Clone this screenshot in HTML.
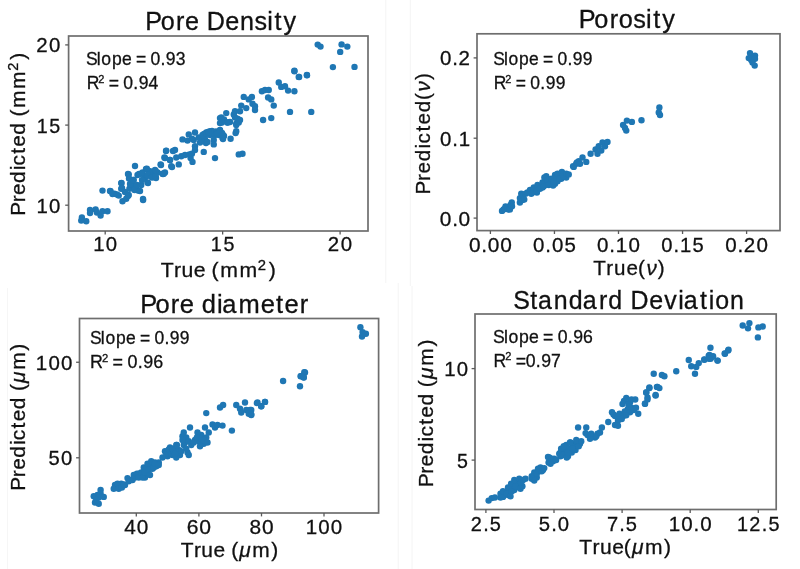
<!DOCTYPE html>
<html><head><meta charset="utf-8"><style>
html,body{margin:0;padding:0;background:#fff;}
svg{display:block;filter:blur(0.45px);}
text{font-family:"Liberation Sans",sans-serif;fill:#111;stroke:#111;stroke-width:0.3px;}
</style></head><body>
<svg width="800" height="569" viewBox="0 0 800 569">
<rect width="800" height="569" fill="#fff"/>
<g stroke-width="1" fill="none">
<line x1="385.8" y1="0" x2="385.8" y2="283" stroke="#f4f4f4"/>
<line x1="398.2" y1="283" x2="398.2" y2="569" stroke="#f4f4f4"/>
<line x1="410.3" y1="0" x2="410.3" y2="286" stroke="#f4f4f4"/>
<line x1="412" y1="286" x2="412" y2="569" stroke="#f4f4f4"/>
<line x1="7.5" y1="288" x2="7.5" y2="569" stroke="#f6f6f6"/>
</g>
<rect x="68.6" y="36" width="299.4" height="195" fill="none" stroke="#6e6e6e" stroke-width="1.7"/>
<line x1="105.2" y1="231" x2="105.2" y2="234.4" stroke="#5a5a5a" stroke-width="1.3"/>
<line x1="222.65" y1="231" x2="222.65" y2="234.4" stroke="#5a5a5a" stroke-width="1.3"/>
<line x1="340.1" y1="231" x2="340.1" y2="234.4" stroke="#5a5a5a" stroke-width="1.3"/>
<line x1="65.2" y1="44.9" x2="68.6" y2="44.9" stroke="#5a5a5a" stroke-width="1.3"/>
<line x1="65.2" y1="125.1" x2="68.6" y2="125.1" stroke="#5a5a5a" stroke-width="1.3"/>
<line x1="65.2" y1="205.2" x2="68.6" y2="205.2" stroke="#5a5a5a" stroke-width="1.3"/>
<rect x="477" y="33.8" width="303" height="196.8" fill="none" stroke="#6e6e6e" stroke-width="1.7"/>
<line x1="490.4" y1="230.6" x2="490.4" y2="234" stroke="#5a5a5a" stroke-width="1.3"/>
<line x1="554.45" y1="230.6" x2="554.45" y2="234" stroke="#5a5a5a" stroke-width="1.3"/>
<line x1="618.5" y1="230.6" x2="618.5" y2="234" stroke="#5a5a5a" stroke-width="1.3"/>
<line x1="682.55" y1="230.6" x2="682.55" y2="234" stroke="#5a5a5a" stroke-width="1.3"/>
<line x1="746.6" y1="230.6" x2="746.6" y2="234" stroke="#5a5a5a" stroke-width="1.3"/>
<line x1="473.6" y1="57.9" x2="477" y2="57.9" stroke="#5a5a5a" stroke-width="1.3"/>
<line x1="473.6" y1="138.2" x2="477" y2="138.2" stroke="#5a5a5a" stroke-width="1.3"/>
<line x1="473.6" y1="218.1" x2="477" y2="218.1" stroke="#5a5a5a" stroke-width="1.3"/>
<rect x="79.5" y="318.5" width="299.1" height="194.5" fill="none" stroke="#6e6e6e" stroke-width="1.7"/>
<line x1="136.3" y1="513" x2="136.3" y2="516.4" stroke="#5a5a5a" stroke-width="1.3"/>
<line x1="198.9" y1="513" x2="198.9" y2="516.4" stroke="#5a5a5a" stroke-width="1.3"/>
<line x1="261.5" y1="513" x2="261.5" y2="516.4" stroke="#5a5a5a" stroke-width="1.3"/>
<line x1="324" y1="513" x2="324" y2="516.4" stroke="#5a5a5a" stroke-width="1.3"/>
<line x1="76.1" y1="362.25" x2="79.5" y2="362.25" stroke="#5a5a5a" stroke-width="1.3"/>
<line x1="76.1" y1="457.8" x2="79.5" y2="457.8" stroke="#5a5a5a" stroke-width="1.3"/>
<rect x="475" y="314" width="301.2" height="195.5" fill="none" stroke="#6e6e6e" stroke-width="1.7"/>
<line x1="485.9" y1="509.5" x2="485.9" y2="512.9" stroke="#5a5a5a" stroke-width="1.3"/>
<line x1="554" y1="509.5" x2="554" y2="512.9" stroke="#5a5a5a" stroke-width="1.3"/>
<line x1="622.1" y1="509.5" x2="622.1" y2="512.9" stroke="#5a5a5a" stroke-width="1.3"/>
<line x1="690.2" y1="509.5" x2="690.2" y2="512.9" stroke="#5a5a5a" stroke-width="1.3"/>
<line x1="758.3" y1="509.5" x2="758.3" y2="512.9" stroke="#5a5a5a" stroke-width="1.3"/>
<line x1="471.6" y1="368.6" x2="475" y2="368.6" stroke="#5a5a5a" stroke-width="1.3"/>
<line x1="471.6" y1="460.1" x2="475" y2="460.1" stroke="#5a5a5a" stroke-width="1.3"/>
<text transform="translate(161.1,276.8) scale(1.0302,1)" font-size="20.6"><tspan x="-0.40 12.46 19.69 31.69 43.24 49.05 57.44 76.01" y="-0.00" font-size="20.60">True (mm</tspan><tspan x="93.90" y="-6.99" font-size="14.42">2</tspan><tspan x="104.58" y="-0.00" font-size="20.60">)</tspan></text>
<text transform="translate(593.3,275.3) scale(0.9994,1)" font-size="20.6"><tspan x="-0.18 13.09 20.66 33.11 44.80" y="-0.00" font-size="20.60">True(</tspan><tspan x="53.16" y="-0.00" font-size="20.60" font-style="italic">ν</tspan><tspan x="64.56" y="-0.00" font-size="20.60">)</tspan></text>
<text transform="translate(181.2,556.9) scale(1.0161,1)" font-size="20.6"><tspan x="-0.38 12.53 19.79 31.83 43.41 49.26" y="-0.00" font-size="20.60">True (</tspan><tspan x="57.20" y="-0.00" font-size="20.60" font-style="italic">μ</tspan><tspan x="69.89 88.59" y="-0.00" font-size="20.60">m)</tspan></text>
<text transform="translate(579.7,553.7) scale(1.0226,1)" font-size="20.6"><tspan x="-0.38 12.53 19.79 31.83 43.19" y="-0.00" font-size="20.60">True(</tspan><tspan x="51.13" y="-0.00" font-size="20.60" font-style="italic">μ</tspan><tspan x="63.82 82.52" y="-0.00" font-size="20.60">m)</tspan></text>
<text transform="translate(25,213) rotate(-90) scale(1.0119,1)" font-size="20.6"><tspan x="-2.63 10.59 17.88 29.76 42.14 47.01 58.56 65.50 77.39 89.36 95.30 103.85 122.65" y="-0.00" font-size="20.60">Predicted (mm</tspan><tspan x="140.70" y="-6.99" font-size="14.42">2</tspan><tspan x="151.51" y="-0.00" font-size="20.60">)</tspan></text>
<text transform="translate(429.6,192.1) rotate(-90) scale(1.0043,1)" font-size="20.6"><tspan x="-2.51 10.99 18.52 30.72 43.35 48.43 60.23 67.43 79.64 91.71" y="-0.00" font-size="20.60">Predicted(</tspan><tspan x="100.09" y="-0.00" font-size="20.60" font-style="italic">ν</tspan><tspan x="111.51" y="-0.00" font-size="20.60">)</tspan></text>
<text transform="translate(25.2,488) rotate(-90) scale(1.0134,1)" font-size="20.6"><tspan x="-2.61 10.65 17.96 29.90 42.31 47.21 58.80 65.77 77.71 89.70 95.68" y="-0.00" font-size="20.60">Predicted (</tspan><tspan x="103.73" y="-0.00" font-size="20.60" font-style="italic">μ</tspan><tspan x="116.62 135.48" y="-0.00" font-size="20.60">m)</tspan></text>
<text transform="translate(432.9,484.7) rotate(-90) scale(1.0199,1)" font-size="20.6"><tspan x="-2.61 10.65 17.96 29.90 42.31 47.21 58.80 65.77 77.71 89.70 95.68" y="-0.00" font-size="20.60">Predicted (</tspan><tspan x="103.73" y="-0.00" font-size="20.60" font-style="italic">μ</tspan><tspan x="116.62 135.48" y="-0.00" font-size="20.60">m)</tspan></text>
<text transform="translate(87.9,65.3) scale(0.9487,1)" font-size="18.5"><tspan x="-2.01 9.36 14.16 25.29 35.85 46.14 50.61 61.21 66.01 76.51 82.20 92.65" y="-0.00" font-size="18.50">Slope = 0.93</tspan></text>
<text transform="translate(89,89.3) scale(0.9489,1)" font-size="18.5"><tspan x="-2.27" y="-0.00" font-size="18.50">R</tspan><tspan x="9.89" y="-6.53" font-size="11.65">2</tspan><tspan x="16.43 20.88 31.47 36.24 46.72 52.40 62.71" y="-0.00" font-size="18.50"> = 0.94</tspan></text>
<text transform="translate(495.1,65.3) scale(0.9447,1)" font-size="18.5"><tspan x="-2.00 9.37 14.18 25.33 35.89 46.19 50.67 61.28 66.09 76.59 82.30 92.89" y="-0.00" font-size="18.50">Slope = 0.99</tspan></text>
<text transform="translate(495.75,89.2) scale(0.9435,1)" font-size="18.5"><tspan x="-2.22" y="-0.00" font-size="18.50">R</tspan><tspan x="10.03" y="-6.53" font-size="11.65">2</tspan><tspan x="16.61 21.16 31.81 36.69 47.25 53.02 63.69" y="-0.00" font-size="18.50"> = 0.99</tspan></text>
<text transform="translate(92,344.3) scale(0.9457,1)" font-size="18.5"><tspan x="-2.00 9.37 14.18 25.33 35.89 46.19 50.67 61.28 66.09 76.59 82.30 92.89" y="-0.00" font-size="18.50">Slope = 0.99</tspan></text>
<text transform="translate(92.3,368.3) scale(0.9675,1)" font-size="18.5"><tspan x="-2.26" y="-0.00" font-size="18.50">R</tspan><tspan x="9.93" y="-6.53" font-size="11.65">2</tspan><tspan x="16.48 20.95 31.55 36.36 46.86 52.56 62.89" y="-0.00" font-size="18.50"> = 0.96</tspan></text>
<text transform="translate(495,343.25) scale(0.9554,1)" font-size="18.5"><tspan x="-2.02 9.31 14.07 25.16 35.66 45.94 50.36 60.94 65.70 76.15 81.81 92.10" y="-0.00" font-size="18.50">Slope = 0.96</tspan></text>
<text transform="translate(495.75,366.5) scale(0.9530,1)" font-size="18.5"><tspan x="-2.28" y="-0.00" font-size="18.50">R</tspan><tspan x="9.88" y="-6.53" font-size="11.65">2</tspan><tspan x="16.42 20.86 31.54 42.01 47.68 58.08" y="-0.00" font-size="18.50"> =0.97</tspan></text>
<text transform="translate(148.5,29.9) scale(0.9818,1)" font-size="25.6"><tspan x="-3.23 12.42 28.03 37.15 51.63 59.32 78.19 93.25 108.04 121.05 128.32 137.41" y="-0.00" font-size="25.60">Pore Density</tspan></text>
<text transform="translate(582,28.2) scale(0.9879,1)" font-size="25.6"><tspan x="-3.21 12.49 28.14 37.21 51.82 64.86 72.17 81.30" y="-0.00" font-size="25.60">Porosity</tspan></text>
<text transform="translate(143.5,313.3) scale(0.9968,1)" font-size="25.6"><tspan x="-3.33 12.07 27.43 36.36 50.70 58.47 73.72 79.07 95.24 117.61 133.00 141.47 156.81" y="-0.00" font-size="25.60">Pore diameter</tspan></text>
<text transform="translate(515.5,309) scale(0.9752,1)" font-size="25.6"><tspan x="-2.22 15.12 23.01 39.20 54.53 69.04 85.73 95.06 110.09 118.03 137.13 152.56 166.78 172.47 189.15 198.14 204.71 220.02" y="-0.00" font-size="25.60">Standard Deviation</tspan></text>
<text transform="translate(0,251.4) scale(0.9975,1)" x="93.42 106.07" font-size="20.4">10</text>
<text transform="translate(0,251.4) scale(0.9657,1)" x="218.32 231.33" font-size="20.4">15</text>
<text transform="translate(0,251.4) scale(1.0019,1)" x="327.25 340.03" font-size="20.4">20</text>
<text transform="translate(0,52.4) scale(1.0019,1)" x="36.22 49.00" font-size="20.4">20</text>
<text transform="translate(0,132.6) scale(0.9657,1)" x="38.00 51.00" font-size="20.4">15</text>
<text transform="translate(0,212.7) scale(0.9975,1)" x="36.60 49.24" font-size="20.4">10</text>
<text transform="translate(0,252.1) scale(1.0226,1)" x="458.55 470.60 476.95 489.23" font-size="20.4">0.00</text>
<text transform="translate(0,252.1) scale(1.0037,1)" x="531.11 543.34 549.85 562.32" font-size="20.4">0.05</text>
<text transform="translate(0,252.1) scale(1.0080,1)" x="592.34 604.52 610.94 623.46" font-size="20.4">0.10</text>
<text transform="translate(0,252.1) scale(0.9885,1)" x="668.93 681.30 687.90 700.62" font-size="20.4">0.15</text>
<text transform="translate(0,252.1) scale(1.0106,1)" x="717.57 729.73 735.94 748.61" font-size="20.4">0.20</text>
<text transform="translate(0,65.4) scale(1.0056,1)" x="437.44 449.65 455.91" font-size="20.4">0.2</text>
<text transform="translate(0,145.7) scale(1.0017,1)" x="439.17 451.42 457.90" font-size="20.4">0.1</text>
<text transform="translate(0,225.6) scale(1.0232,1)" x="429.85 441.90 448.23" font-size="20.4">0.0</text>
<text transform="translate(0,534.3) scale(1.0173,1)" x="122.15 134.47" font-size="20.4">40</text>
<text transform="translate(0,534.3) scale(1.0350,1)" x="180.44 192.55" font-size="20.4">60</text>
<text transform="translate(0,534.3) scale(1.0243,1)" x="243.51 255.74" font-size="20.4">80</text>
<text transform="translate(0,534.3) scale(1.0057,1)" x="303.94 316.49 328.98" font-size="20.4">100</text>
<text transform="translate(0,369.75) scale(1.0057,1)" x="35.57 48.12 60.61" font-size="20.4">100</text>
<text transform="translate(0,465.3) scale(0.9910,1)" x="48.84 61.56" font-size="20.4">50</text>
<text transform="translate(0,530.85) scale(0.9775,1)" x="481.54 494.27 500.99" font-size="20.4">2.5</text>
<text transform="translate(0,530.85) scale(0.9956,1)" x="541.23 553.59 560.18" font-size="20.4">5.0</text>
<text transform="translate(0,530.85) scale(0.9846,1)" x="616.58 629.01 635.66" font-size="20.4">7.5</text>
<text transform="translate(0,530.85) scale(1.0080,1)" x="663.41 675.92 688.11 694.59" font-size="20.4">10.0</text>
<text transform="translate(0,530.85) scale(0.9756,1)" x="755.44 768.11 780.86 787.60" font-size="20.4">12.5</text>
<text transform="translate(0,376.1) scale(0.9975,1)" x="445.36 458.01" font-size="20.4">10</text>
<text transform="translate(0,467.6) scale(0.9606,1)" x="475.75" font-size="20.4">5</text>
<g fill="#1f77b4">
<circle cx="204" cy="134" r="3.2"/>
<circle cx="208" cy="132" r="3.2"/>
<circle cx="212" cy="131" r="3.2"/>
<circle cx="216" cy="131.5" r="3.2"/>
<circle cx="220" cy="130.5" r="3.2"/>
<circle cx="222" cy="133" r="3.2"/>
<circle cx="224" cy="136" r="3.2"/>
<circle cx="223" cy="139" r="3.2"/>
<circle cx="219" cy="135" r="3.2"/>
<circle cx="215" cy="135" r="3.2"/>
<circle cx="210" cy="135" r="3.2"/>
<circle cx="205" cy="139" r="3.2"/>
<circle cx="202" cy="141" r="3.2"/>
<circle cx="206" cy="143" r="3.2"/>
<circle cx="224" cy="119.5" r="3.2"/>
<circle cx="230" cy="122" r="3.2"/>
<circle cx="81.9" cy="217.5" r="3.2"/>
<circle cx="81.25" cy="220.6" r="3.2"/>
<circle cx="86.25" cy="221.25" r="3.2"/>
<circle cx="90" cy="210" r="3.2"/>
<circle cx="90" cy="213.1" r="3.2"/>
<circle cx="95.6" cy="209.4" r="3.2"/>
<circle cx="96.9" cy="212.5" r="3.2"/>
<circle cx="100.6" cy="215.6" r="3.2"/>
<circle cx="102.5" cy="211.25" r="3.2"/>
<circle cx="107.5" cy="211.25" r="3.2"/>
<circle cx="102.5" cy="190.6" r="3.2"/>
<circle cx="110.6" cy="191.25" r="3.2"/>
<circle cx="114.4" cy="193.75" r="3.2"/>
<circle cx="118.75" cy="195.6" r="3.2"/>
<circle cx="121.25" cy="183.1" r="3.2"/>
<circle cx="121.25" cy="188.75" r="3.2"/>
<circle cx="122.5" cy="201.25" r="3.2"/>
<circle cx="126.25" cy="198.75" r="3.2"/>
<circle cx="128.75" cy="195" r="3.2"/>
<circle cx="128.75" cy="174.4" r="3.2"/>
<circle cx="129.4" cy="188.75" r="3.2"/>
<circle cx="132.5" cy="185" r="3.2"/>
<circle cx="133.75" cy="180" r="3.2"/>
<circle cx="136.25" cy="187.5" r="3.2"/>
<circle cx="138.1" cy="190.6" r="3.2"/>
<circle cx="137.5" cy="175" r="3.2"/>
<circle cx="141.25" cy="173.75" r="3.2"/>
<circle cx="141.25" cy="185" r="3.2"/>
<circle cx="143.1" cy="200" r="3.2"/>
<circle cx="145" cy="177.5" r="3.2"/>
<circle cx="147.5" cy="182.5" r="3.2"/>
<circle cx="150" cy="171.25" r="3.2"/>
<circle cx="153.1" cy="175.6" r="3.2"/>
<circle cx="157.5" cy="172.5" r="3.2"/>
<circle cx="162.5" cy="173.75" r="3.2"/>
<circle cx="165" cy="172.5" r="3.2"/>
<circle cx="110" cy="191" r="3.2"/>
<circle cx="112.5" cy="194" r="3.2"/>
<circle cx="117" cy="194.5" r="3.2"/>
<circle cx="121.5" cy="183" r="3.2"/>
<circle cx="122" cy="188" r="3.2"/>
<circle cx="125" cy="192" r="3.2"/>
<circle cx="128" cy="174" r="3.2"/>
<circle cx="129" cy="178.5" r="3.2"/>
<circle cx="130" cy="184" r="3.2"/>
<circle cx="128" cy="196" r="3.2"/>
<circle cx="133" cy="180" r="3.2"/>
<circle cx="135" cy="166" r="3.2"/>
<circle cx="134.5" cy="190" r="3.2"/>
<circle cx="137" cy="185" r="3.2"/>
<circle cx="139" cy="174" r="3.2"/>
<circle cx="140" cy="191" r="3.2"/>
<circle cx="142" cy="180" r="3.2"/>
<circle cx="143" cy="199" r="3.2"/>
<circle cx="146" cy="169" r="3.2"/>
<circle cx="147" cy="176" r="3.2"/>
<circle cx="148" cy="183" r="3.2"/>
<circle cx="151" cy="172" r="3.2"/>
<circle cx="153" cy="177" r="3.2"/>
<circle cx="155" cy="170" r="3.2"/>
<circle cx="156" cy="178" r="3.2"/>
<circle cx="161" cy="165" r="3.2"/>
<circle cx="163" cy="174" r="3.2"/>
<circle cx="165" cy="158" r="3.2"/>
<circle cx="166" cy="151" r="3.2"/>
<circle cx="170" cy="160" r="3.2"/>
<circle cx="172" cy="167" r="3.2"/>
<circle cx="173" cy="151" r="3.2"/>
<circle cx="142.5" cy="172.5" r="3.2"/>
<circle cx="146.9" cy="168.75" r="3.2"/>
<circle cx="147.5" cy="175" r="3.2"/>
<circle cx="151.9" cy="177.5" r="3.2"/>
<circle cx="155.6" cy="170.6" r="3.2"/>
<circle cx="155.6" cy="176.25" r="3.2"/>
<circle cx="160.6" cy="164.4" r="3.2"/>
<circle cx="163.75" cy="173.75" r="3.2"/>
<circle cx="164.4" cy="157.5" r="3.2"/>
<circle cx="166.25" cy="150.6" r="3.2"/>
<circle cx="170" cy="160" r="3.2"/>
<circle cx="171.25" cy="166.25" r="3.2"/>
<circle cx="175" cy="150" r="3.2"/>
<circle cx="176.25" cy="157.5" r="3.2"/>
<circle cx="178.75" cy="164.4" r="3.2"/>
<circle cx="181.25" cy="156.25" r="3.2"/>
<circle cx="185" cy="155" r="3.2"/>
<circle cx="189.4" cy="154.4" r="3.2"/>
<circle cx="190.6" cy="158.1" r="3.2"/>
<circle cx="192.5" cy="161.9" r="3.2"/>
<circle cx="182.5" cy="139.4" r="3.2"/>
<circle cx="187.5" cy="140.6" r="3.2"/>
<circle cx="188.75" cy="134.4" r="3.2"/>
<circle cx="193.75" cy="140" r="3.2"/>
<circle cx="195" cy="132.5" r="3.2"/>
<circle cx="195" cy="146.25" r="3.2"/>
<circle cx="195" cy="150" r="3.2"/>
<circle cx="198.75" cy="137.5" r="3.2"/>
<circle cx="200" cy="142.5" r="3.2"/>
<circle cx="203.75" cy="151.9" r="3.2"/>
<circle cx="202.5" cy="135" r="3.2"/>
<circle cx="206.25" cy="132.5" r="3.2"/>
<circle cx="207.5" cy="141.9" r="3.2"/>
<circle cx="210" cy="131.25" r="3.2"/>
<circle cx="213.75" cy="140" r="3.2"/>
<circle cx="213.75" cy="144.4" r="3.2"/>
<circle cx="215" cy="158.1" r="3.2"/>
<circle cx="217.5" cy="133.75" r="3.2"/>
<circle cx="220" cy="130" r="3.2"/>
<circle cx="220" cy="123.1" r="3.2"/>
<circle cx="223.1" cy="135" r="3.2"/>
<circle cx="222.5" cy="138.1" r="3.2"/>
<circle cx="227.5" cy="122.5" r="3.2"/>
<circle cx="230.6" cy="138.75" r="3.2"/>
<circle cx="235.6" cy="133.1" r="3.2"/>
<circle cx="236.25" cy="123.75" r="3.2"/>
<circle cx="238.75" cy="154.4" r="3.2"/>
<circle cx="191.9" cy="138.75" r="3.2"/>
<circle cx="191.9" cy="153.75" r="3.2"/>
<circle cx="206.25" cy="133.75" r="3.2"/>
<circle cx="208.75" cy="132.5" r="3.2"/>
<circle cx="220" cy="118.1" r="3.2"/>
<circle cx="235" cy="117.5" r="3.2"/>
<circle cx="242.5" cy="153.75" r="3.2"/>
<circle cx="221.25" cy="117.5" r="3.2"/>
<circle cx="221.9" cy="122.5" r="3.2"/>
<circle cx="226.25" cy="113.1" r="3.2"/>
<circle cx="227.5" cy="122.5" r="3.2"/>
<circle cx="233.75" cy="114.4" r="3.2"/>
<circle cx="235" cy="111.25" r="3.2"/>
<circle cx="237.5" cy="118.75" r="3.2"/>
<circle cx="236.25" cy="125" r="3.2"/>
<circle cx="238.75" cy="122.5" r="3.2"/>
<circle cx="240" cy="120" r="3.2"/>
<circle cx="236.25" cy="131.25" r="3.2"/>
<circle cx="241.25" cy="105.6" r="3.2"/>
<circle cx="240" cy="111.25" r="3.2"/>
<circle cx="243.75" cy="96.9" r="3.2"/>
<circle cx="246.25" cy="108.1" r="3.2"/>
<circle cx="248.75" cy="99.4" r="3.2"/>
<circle cx="251.9" cy="96.9" r="3.2"/>
<circle cx="252.5" cy="103.75" r="3.2"/>
<circle cx="255" cy="106.25" r="3.2"/>
<circle cx="255" cy="110" r="3.2"/>
<circle cx="261.9" cy="91.25" r="3.2"/>
<circle cx="265" cy="90" r="3.2"/>
<circle cx="268.75" cy="90" r="3.2"/>
<circle cx="268.1" cy="97.5" r="3.2"/>
<circle cx="271.25" cy="99.4" r="3.2"/>
<circle cx="273.75" cy="105.6" r="3.2"/>
<circle cx="263.1" cy="120" r="3.2"/>
<circle cx="271.25" cy="118.1" r="3.2"/>
<circle cx="278.75" cy="82.5" r="3.2"/>
<circle cx="281.25" cy="86.9" r="3.2"/>
<circle cx="285" cy="86.25" r="3.2"/>
<circle cx="288.1" cy="90.6" r="3.2"/>
<circle cx="294.4" cy="91.25" r="3.2"/>
<circle cx="290" cy="111.9" r="3.2"/>
<circle cx="311.25" cy="111.9" r="3.2"/>
<circle cx="294.4" cy="71.25" r="3.2"/>
<circle cx="298.75" cy="76.9" r="3.2"/>
<circle cx="306.9" cy="75" r="3.2"/>
<circle cx="317.7" cy="44.6" r="3.2"/>
<circle cx="320.5" cy="46.6" r="3.2"/>
<circle cx="341.6" cy="44.4" r="3.2"/>
<circle cx="347.3" cy="46.6" r="3.2"/>
<circle cx="340.2" cy="51.9" r="3.2"/>
<circle cx="332.9" cy="67.1" r="3.2"/>
<circle cx="354.5" cy="66.9" r="3.2"/>
<circle cx="294.4" cy="70.7" r="3.2"/>
<circle cx="299.1" cy="77" r="3.2"/>
<circle cx="307" cy="75.2" r="3.2"/>
<circle cx="505.5" cy="206.5" r="3.2"/>
<circle cx="508.5" cy="209.5" r="3.2"/>
<circle cx="503.5" cy="209.5" r="3.2"/>
<circle cx="751.5" cy="56.5" r="3.2"/>
<circle cx="536.9" cy="192.5" r="3.2"/>
<circle cx="533.75" cy="191.25" r="3.2"/>
<circle cx="531.25" cy="193.75" r="3.2"/>
<circle cx="542.5" cy="187.5" r="3.2"/>
<circle cx="545" cy="185" r="3.2"/>
<circle cx="550" cy="183.75" r="3.2"/>
<circle cx="555" cy="183.75" r="3.2"/>
<circle cx="557.5" cy="181.25" r="3.2"/>
<circle cx="561.25" cy="178.75" r="3.2"/>
<circle cx="566.25" cy="177.5" r="3.2"/>
<circle cx="555" cy="175" r="3.2"/>
<circle cx="546.25" cy="176.25" r="3.2"/>
<circle cx="522.5" cy="200" r="3.2"/>
<circle cx="521.25" cy="193.75" r="3.2"/>
<circle cx="502" cy="210.9" r="3.2"/>
<circle cx="504.9" cy="208.75" r="3.2"/>
<circle cx="507.4" cy="207.5" r="3.2"/>
<circle cx="510.5" cy="205" r="3.2"/>
<circle cx="511.75" cy="202.5" r="3.2"/>
<circle cx="509.9" cy="209.4" r="3.2"/>
<circle cx="512" cy="206.25" r="3.2"/>
<circle cx="519.9" cy="202.5" r="3.2"/>
<circle cx="519.9" cy="198.1" r="3.2"/>
<circle cx="523" cy="195.6" r="3.2"/>
<circle cx="525.5" cy="193.75" r="3.2"/>
<circle cx="527.4" cy="192.5" r="3.2"/>
<circle cx="524.25" cy="199.4" r="3.2"/>
<circle cx="530" cy="190" r="3.2"/>
<circle cx="532.5" cy="192.5" r="3.2"/>
<circle cx="533.75" cy="187.5" r="3.2"/>
<circle cx="536.9" cy="191.25" r="3.2"/>
<circle cx="537.5" cy="185" r="3.2"/>
<circle cx="540" cy="188.75" r="3.2"/>
<circle cx="542.5" cy="182.5" r="3.2"/>
<circle cx="543.75" cy="186.25" r="3.2"/>
<circle cx="544.4" cy="177.5" r="3.2"/>
<circle cx="547.5" cy="180" r="3.2"/>
<circle cx="548.75" cy="185" r="3.2"/>
<circle cx="551.25" cy="178.75" r="3.2"/>
<circle cx="553.1" cy="185.6" r="3.2"/>
<circle cx="553.75" cy="181.25" r="3.2"/>
<circle cx="556.25" cy="177.5" r="3.2"/>
<circle cx="557.5" cy="173.75" r="3.2"/>
<circle cx="559.4" cy="178.75" r="3.2"/>
<circle cx="561.9" cy="171.9" r="3.2"/>
<circle cx="563.1" cy="176.25" r="3.2"/>
<circle cx="566.25" cy="173.75" r="3.2"/>
<circle cx="568.75" cy="174.4" r="3.2"/>
<circle cx="573.75" cy="166.9" r="3.2"/>
<circle cx="576.25" cy="163.75" r="3.2"/>
<circle cx="578.75" cy="161.25" r="3.2"/>
<circle cx="573.1" cy="166.25" r="3.2"/>
<circle cx="576.9" cy="162.5" r="3.2"/>
<circle cx="580" cy="163.75" r="3.2"/>
<circle cx="582.5" cy="157.5" r="3.2"/>
<circle cx="586.25" cy="161.9" r="3.2"/>
<circle cx="590.6" cy="153.75" r="3.2"/>
<circle cx="595.6" cy="149.4" r="3.2"/>
<circle cx="597.5" cy="153.75" r="3.2"/>
<circle cx="598.75" cy="146.25" r="3.2"/>
<circle cx="601.25" cy="150.6" r="3.2"/>
<circle cx="602.5" cy="142.5" r="3.2"/>
<circle cx="605" cy="146.25" r="3.2"/>
<circle cx="607.5" cy="141.9" r="3.2"/>
<circle cx="623.1" cy="125" r="3.2"/>
<circle cx="626.9" cy="120.6" r="3.2"/>
<circle cx="626.25" cy="130.6" r="3.2"/>
<circle cx="631.9" cy="121.9" r="3.2"/>
<circle cx="625" cy="128" r="3.2"/>
<circle cx="641.5" cy="120.25" r="3.2"/>
<circle cx="659.4" cy="107.5" r="3.2"/>
<circle cx="658.75" cy="112.5" r="3.2"/>
<circle cx="660" cy="115" r="3.2"/>
<circle cx="750" cy="53.1" r="3.2"/>
<circle cx="755" cy="55.6" r="3.2"/>
<circle cx="748.75" cy="58.1" r="3.2"/>
<circle cx="751.25" cy="60" r="3.2"/>
<circle cx="755" cy="58.75" r="3.2"/>
<circle cx="754.7" cy="65.6" r="3.2"/>
<circle cx="752.5" cy="62.5" r="3.2"/>
<circle cx="100.6" cy="493.75" r="3.2"/>
<circle cx="97.5" cy="495" r="3.2"/>
<circle cx="145" cy="468.75" r="3.2"/>
<circle cx="152.5" cy="468.75" r="3.2"/>
<circle cx="156.25" cy="466.25" r="3.2"/>
<circle cx="150" cy="465" r="3.2"/>
<circle cx="147.5" cy="472.5" r="3.2"/>
<circle cx="138.75" cy="473.75" r="3.2"/>
<circle cx="135" cy="477.5" r="3.2"/>
<circle cx="130" cy="480" r="3.2"/>
<circle cx="125" cy="485" r="3.2"/>
<circle cx="120" cy="486.25" r="3.2"/>
<circle cx="116.25" cy="487.5" r="3.2"/>
<circle cx="115" cy="485" r="3.2"/>
<circle cx="121.25" cy="483.75" r="3.2"/>
<circle cx="145" cy="477.5" r="3.2"/>
<circle cx="142.5" cy="475" r="3.2"/>
<circle cx="158.75" cy="462.5" r="3.2"/>
<circle cx="155" cy="462.5" r="3.2"/>
<circle cx="165" cy="451.25" r="3.2"/>
<circle cx="167.5" cy="456.25" r="3.2"/>
<circle cx="172.5" cy="450" r="3.2"/>
<circle cx="175" cy="455" r="3.2"/>
<circle cx="170" cy="447.5" r="3.2"/>
<circle cx="185" cy="442.5" r="3.2"/>
<circle cx="187.5" cy="452.5" r="3.2"/>
<circle cx="177.5" cy="450" r="3.2"/>
<circle cx="180" cy="455" r="3.2"/>
<circle cx="172.5" cy="455" r="3.2"/>
<circle cx="191.25" cy="445" r="3.2"/>
<circle cx="198.75" cy="441.25" r="3.2"/>
<circle cx="203.75" cy="443.75" r="3.2"/>
<circle cx="201.25" cy="435" r="3.2"/>
<circle cx="206.25" cy="437.5" r="3.2"/>
<circle cx="195" cy="440" r="3.2"/>
<circle cx="182.5" cy="436.25" r="3.2"/>
<circle cx="186.25" cy="437.5" r="3.2"/>
<circle cx="100.6" cy="490" r="3.2"/>
<circle cx="93.75" cy="496.25" r="3.2"/>
<circle cx="98.75" cy="497.5" r="3.2"/>
<circle cx="103.75" cy="496.9" r="3.2"/>
<circle cx="95" cy="502.5" r="3.2"/>
<circle cx="98.75" cy="503.75" r="3.2"/>
<circle cx="96.25" cy="500" r="3.2"/>
<circle cx="113.75" cy="488.75" r="3.2"/>
<circle cx="117.5" cy="483.75" r="3.2"/>
<circle cx="118.75" cy="488.75" r="3.2"/>
<circle cx="121.9" cy="487.5" r="3.2"/>
<circle cx="123.75" cy="484.4" r="3.2"/>
<circle cx="127.5" cy="478.1" r="3.2"/>
<circle cx="128.75" cy="481.25" r="3.2"/>
<circle cx="132.5" cy="480" r="3.2"/>
<circle cx="133.75" cy="475" r="3.2"/>
<circle cx="136.9" cy="473.75" r="3.2"/>
<circle cx="138.75" cy="477.5" r="3.2"/>
<circle cx="141.25" cy="472.5" r="3.2"/>
<circle cx="142.5" cy="477.5" r="3.2"/>
<circle cx="143.75" cy="467.5" r="3.2"/>
<circle cx="145" cy="472.5" r="3.2"/>
<circle cx="147.5" cy="463.75" r="3.2"/>
<circle cx="148.75" cy="470" r="3.2"/>
<circle cx="150" cy="475" r="3.2"/>
<circle cx="151.25" cy="461.25" r="3.2"/>
<circle cx="153.75" cy="467.5" r="3.2"/>
<circle cx="155" cy="463.75" r="3.2"/>
<circle cx="158.75" cy="465" r="3.2"/>
<circle cx="162.5" cy="457.5" r="3.2"/>
<circle cx="166.25" cy="453.75" r="3.2"/>
<circle cx="168.75" cy="449.4" r="3.2"/>
<circle cx="171.25" cy="453.75" r="3.2"/>
<circle cx="173.75" cy="451.25" r="3.2"/>
<circle cx="176.25" cy="445" r="3.2"/>
<circle cx="176.25" cy="457.5" r="3.2"/>
<circle cx="178.75" cy="450" r="3.2"/>
<circle cx="172.5" cy="448.75" r="3.2"/>
<circle cx="176.9" cy="445" r="3.2"/>
<circle cx="175" cy="453.75" r="3.2"/>
<circle cx="181.25" cy="451.25" r="3.2"/>
<circle cx="183.75" cy="445" r="3.2"/>
<circle cx="183.75" cy="432.5" r="3.2"/>
<circle cx="182.5" cy="440" r="3.2"/>
<circle cx="188.75" cy="455" r="3.2"/>
<circle cx="186.25" cy="448.75" r="3.2"/>
<circle cx="190" cy="427.5" r="3.2"/>
<circle cx="188.75" cy="441.25" r="3.2"/>
<circle cx="193.75" cy="442.5" r="3.2"/>
<circle cx="197.5" cy="432.5" r="3.2"/>
<circle cx="196.9" cy="437.5" r="3.2"/>
<circle cx="200" cy="446.25" r="3.2"/>
<circle cx="201.25" cy="438.75" r="3.2"/>
<circle cx="203.75" cy="440" r="3.2"/>
<circle cx="207.5" cy="442.5" r="3.2"/>
<circle cx="205" cy="427.5" r="3.2"/>
<circle cx="208.75" cy="432.5" r="3.2"/>
<circle cx="206.25" cy="413.1" r="3.2"/>
<circle cx="212.5" cy="424.4" r="3.2"/>
<circle cx="215" cy="427.5" r="3.2"/>
<circle cx="217.5" cy="425" r="3.2"/>
<circle cx="222.5" cy="425.6" r="3.2"/>
<circle cx="220" cy="407.5" r="3.2"/>
<circle cx="223.1" cy="405" r="3.2"/>
<circle cx="231.9" cy="430.6" r="3.2"/>
<circle cx="236.25" cy="405" r="3.2"/>
<circle cx="240" cy="408.75" r="3.2"/>
<circle cx="245" cy="402.5" r="3.2"/>
<circle cx="241.25" cy="412.5" r="3.2"/>
<circle cx="246.25" cy="410" r="3.2"/>
<circle cx="250" cy="410" r="3.2"/>
<circle cx="251.25" cy="415" r="3.2"/>
<circle cx="248.75" cy="413.75" r="3.2"/>
<circle cx="257.5" cy="402.5" r="3.2"/>
<circle cx="261.25" cy="406.25" r="3.2"/>
<circle cx="265" cy="401.9" r="3.2"/>
<circle cx="256.9" cy="403.1" r="3.2"/>
<circle cx="261.25" cy="406.25" r="3.2"/>
<circle cx="265" cy="401.9" r="3.2"/>
<circle cx="251.25" cy="410" r="3.2"/>
<circle cx="251.25" cy="414.4" r="3.2"/>
<circle cx="283.1" cy="381" r="3.2"/>
<circle cx="300" cy="386.25" r="3.2"/>
<circle cx="300.6" cy="376.25" r="3.2"/>
<circle cx="303.75" cy="377.5" r="3.2"/>
<circle cx="305" cy="372.5" r="3.2"/>
<circle cx="360.4" cy="327.2" r="3.2"/>
<circle cx="362.6" cy="332.1" r="3.2"/>
<circle cx="365.9" cy="333.75" r="3.2"/>
<circle cx="362" cy="336.5" r="3.2"/>
<circle cx="304.3" cy="372.25" r="3.2"/>
<circle cx="301" cy="376.1" r="3.2"/>
<circle cx="303.75" cy="377.2" r="3.2"/>
<circle cx="615" cy="416" r="3.2"/>
<circle cx="619.5" cy="413.75" r="3.2"/>
<circle cx="623.25" cy="416" r="3.2"/>
<circle cx="627.75" cy="409.25" r="3.2"/>
<circle cx="631.5" cy="407.75" r="3.2"/>
<circle cx="630" cy="402.5" r="3.2"/>
<circle cx="624" cy="401" r="3.2"/>
<circle cx="618" cy="420.5" r="3.2"/>
<circle cx="505.5" cy="492.5" r="3.2"/>
<circle cx="509.25" cy="490" r="3.2"/>
<circle cx="515.5" cy="482.5" r="3.2"/>
<circle cx="518" cy="483.75" r="3.2"/>
<circle cx="514.25" cy="490" r="3.2"/>
<circle cx="508" cy="495" r="3.2"/>
<circle cx="500.5" cy="497.5" r="3.2"/>
<circle cx="519.25" cy="487.5" r="3.2"/>
<circle cx="523" cy="480" r="3.2"/>
<circle cx="513" cy="486.25" r="3.2"/>
<circle cx="535.5" cy="476.25" r="3.2"/>
<circle cx="539.25" cy="471.25" r="3.2"/>
<circle cx="543" cy="470" r="3.2"/>
<circle cx="534.25" cy="472.5" r="3.2"/>
<circle cx="531.75" cy="478.75" r="3.2"/>
<circle cx="536.75" cy="477.5" r="3.2"/>
<circle cx="550.5" cy="460" r="3.2"/>
<circle cx="553" cy="461.25" r="3.2"/>
<circle cx="549.25" cy="457.5" r="3.2"/>
<circle cx="554.25" cy="458.75" r="3.2"/>
<circle cx="560.5" cy="452.5" r="3.2"/>
<circle cx="564.25" cy="451.25" r="3.2"/>
<circle cx="565.5" cy="455" r="3.2"/>
<circle cx="569.25" cy="448.75" r="3.2"/>
<circle cx="571.75" cy="452.5" r="3.2"/>
<circle cx="568" cy="456.25" r="3.2"/>
<circle cx="574.25" cy="445" r="3.2"/>
<circle cx="560.5" cy="456.25" r="3.2"/>
<circle cx="587.5" cy="435" r="3.2"/>
<circle cx="592.5" cy="436.25" r="3.2"/>
<circle cx="597.5" cy="433.75" r="3.2"/>
<circle cx="595" cy="437.5" r="3.2"/>
<circle cx="566.25" cy="445" r="3.2"/>
<circle cx="575" cy="443.75" r="3.2"/>
<circle cx="580" cy="443.75" r="3.2"/>
<circle cx="573.75" cy="447.5" r="3.2"/>
<circle cx="568.75" cy="448.75" r="3.2"/>
<circle cx="488.6" cy="500.6" r="3.2"/>
<circle cx="491.75" cy="498.1" r="3.2"/>
<circle cx="494.9" cy="497.5" r="3.2"/>
<circle cx="500.5" cy="493.75" r="3.2"/>
<circle cx="503" cy="496.9" r="3.2"/>
<circle cx="503" cy="491.25" r="3.2"/>
<circle cx="506.75" cy="493.75" r="3.2"/>
<circle cx="508" cy="487.5" r="3.2"/>
<circle cx="510.5" cy="496.25" r="3.2"/>
<circle cx="511.75" cy="491.25" r="3.2"/>
<circle cx="511.1" cy="483.75" r="3.2"/>
<circle cx="514.25" cy="480" r="3.2"/>
<circle cx="515.5" cy="486.25" r="3.2"/>
<circle cx="519.25" cy="478.75" r="3.2"/>
<circle cx="520.5" cy="488.75" r="3.2"/>
<circle cx="522.4" cy="486.25" r="3.2"/>
<circle cx="521.1" cy="482.5" r="3.2"/>
<circle cx="525.5" cy="478.75" r="3.2"/>
<circle cx="531.75" cy="476.25" r="3.2"/>
<circle cx="534.25" cy="480.6" r="3.2"/>
<circle cx="536.75" cy="473.75" r="3.2"/>
<circle cx="538" cy="468.75" r="3.2"/>
<circle cx="541.75" cy="471.25" r="3.2"/>
<circle cx="540.5" cy="467.5" r="3.2"/>
<circle cx="544.25" cy="468.1" r="3.2"/>
<circle cx="548" cy="456.9" r="3.2"/>
<circle cx="548.6" cy="462.5" r="3.2"/>
<circle cx="550.5" cy="463.75" r="3.2"/>
<circle cx="551.75" cy="458.75" r="3.2"/>
<circle cx="556.1" cy="460" r="3.2"/>
<circle cx="559.25" cy="453.75" r="3.2"/>
<circle cx="561.1" cy="448.75" r="3.2"/>
<circle cx="563" cy="455" r="3.2"/>
<circle cx="565.5" cy="446.25" r="3.2"/>
<circle cx="566.75" cy="457.5" r="3.2"/>
<circle cx="568" cy="452.5" r="3.2"/>
<circle cx="570.5" cy="442.5" r="3.2"/>
<circle cx="573" cy="446.25" r="3.2"/>
<circle cx="575.5" cy="450" r="3.2"/>
<circle cx="576.75" cy="441.25" r="3.2"/>
<circle cx="563.75" cy="446.25" r="3.2"/>
<circle cx="570" cy="442.5" r="3.2"/>
<circle cx="572.5" cy="448.75" r="3.2"/>
<circle cx="576.25" cy="440" r="3.2"/>
<circle cx="578.75" cy="446.25" r="3.2"/>
<circle cx="581.25" cy="441.25" r="3.2"/>
<circle cx="578.1" cy="427.5" r="3.2"/>
<circle cx="586.25" cy="427.5" r="3.2"/>
<circle cx="585.6" cy="433.1" r="3.2"/>
<circle cx="590" cy="438.75" r="3.2"/>
<circle cx="591.25" cy="433.75" r="3.2"/>
<circle cx="596.25" cy="436.25" r="3.2"/>
<circle cx="600" cy="432.5" r="3.2"/>
<circle cx="601.9" cy="427.5" r="3.2"/>
<circle cx="645" cy="403.75" r="3.2"/>
<circle cx="647.5" cy="397.5" r="3.2"/>
<circle cx="646.25" cy="392.5" r="3.2"/>
<circle cx="649.4" cy="388.1" r="3.2"/>
<circle cx="655.6" cy="395" r="3.2"/>
<circle cx="656.9" cy="386.9" r="3.2"/>
<circle cx="645" cy="403.75" r="3.2"/>
<circle cx="647.5" cy="399.4" r="3.2"/>
<circle cx="646.25" cy="392.5" r="3.2"/>
<circle cx="649.4" cy="387.5" r="3.2"/>
<circle cx="655.6" cy="395.6" r="3.2"/>
<circle cx="657.5" cy="386.9" r="3.2"/>
<circle cx="659.4" cy="388.1" r="3.2"/>
<circle cx="653.75" cy="373.75" r="3.2"/>
<circle cx="661.9" cy="375" r="3.2"/>
<circle cx="664.4" cy="376.25" r="3.2"/>
<circle cx="676.25" cy="371.25" r="3.2"/>
<circle cx="688.75" cy="360" r="3.2"/>
<circle cx="691.25" cy="366.25" r="3.2"/>
<circle cx="695" cy="373.75" r="3.2"/>
<circle cx="696.25" cy="366.9" r="3.2"/>
<circle cx="698.75" cy="363.1" r="3.2"/>
<circle cx="704.4" cy="359.4" r="3.2"/>
<circle cx="708.75" cy="355.6" r="3.2"/>
<circle cx="710.6" cy="358.75" r="3.2"/>
<circle cx="713.1" cy="356.25" r="3.2"/>
<circle cx="717.5" cy="360.6" r="3.2"/>
<circle cx="725" cy="353.75" r="3.2"/>
<circle cx="728.1" cy="350.6" r="3.2"/>
<circle cx="742.7" cy="325.5" r="3.2"/>
<circle cx="749.4" cy="323.1" r="3.2"/>
<circle cx="748" cy="328.35" r="3.2"/>
<circle cx="758.4" cy="327.4" r="3.2"/>
<circle cx="762.7" cy="326.45" r="3.2"/>
<circle cx="757.9" cy="337.4" r="3.2"/>
<circle cx="710.45" cy="347.8" r="3.2"/>
<circle cx="709.5" cy="354.9" r="3.2"/>
<circle cx="712.35" cy="356.8" r="3.2"/>
<circle cx="704.3" cy="359.7" r="3.2"/>
<circle cx="709" cy="358.7" r="3.2"/>
<circle cx="717.6" cy="360.6" r="3.2"/>
<circle cx="724.7" cy="353.5" r="3.2"/>
<circle cx="728.5" cy="349.7" r="3.2"/>
<circle cx="626.25" cy="398" r="3.2"/>
<circle cx="631.5" cy="399.5" r="3.2"/>
<circle cx="635.25" cy="399.5" r="3.2"/>
<circle cx="622.5" cy="404" r="3.2"/>
<circle cx="628.5" cy="404.75" r="3.2"/>
<circle cx="636" cy="407.75" r="3.2"/>
<circle cx="638.25" cy="413.75" r="3.2"/>
<circle cx="624.75" cy="411.5" r="3.2"/>
<circle cx="630" cy="412.25" r="3.2"/>
<circle cx="633.75" cy="410" r="3.2"/>
<circle cx="613.5" cy="414.5" r="3.2"/>
<circle cx="618" cy="416.75" r="3.2"/>
<circle cx="621.75" cy="419" r="3.2"/>
<circle cx="615" cy="425" r="3.2"/>
<circle cx="618" cy="425.75" r="3.2"/>
<circle cx="608.25" cy="422" r="3.2"/>
<circle cx="612" cy="412.25" r="3.2"/>
<circle cx="626.25" cy="415.25" r="3.2"/>
</g>
</svg>
</body></html>
